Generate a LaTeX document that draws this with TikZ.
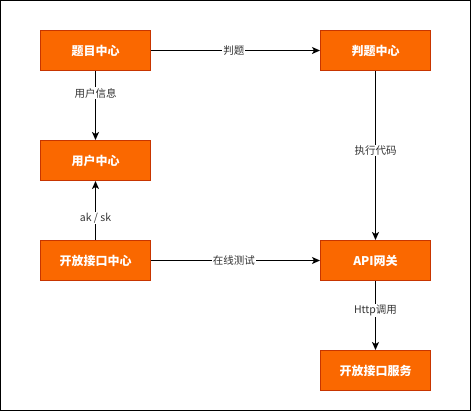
\documentclass[tikz,border=0pt]{standalone}
\usepackage{fontspec}
\setmainfont{Noto Sans CJK SC}
\usetikzlibrary{arrows.meta}
\definecolor{boxfill}{HTML}{FA6800}
\definecolor{boxline}{HTML}{C73500}
\definecolor{lblgray}{HTML}{333333}
\tikzstyle{box}=[rectangle, draw=boxline, fill=boxfill, line width=1pt,
                 minimum width=110pt, minimum height=40pt, inner sep=0pt,
                 text=white, font=\fontsize{12}{14}\selectfont\bfseries]
\tikzstyle{lbl}=[fill=white, inner sep=1pt, text=lblgray,
                 font=\fontsize{10.5}{12}\selectfont]
\tikzstyle{edge}=[draw=black, line width=1pt,
                  -{Stealth[length=8pt, width=7pt, inset=2pt]}]
\begin{document}
\begin{tikzpicture}[x=1pt, y=-1pt]

      \useasboundingbox (0,0) rectangle (471,411);
      \draw[line width=1pt] (0.5,0.5) rectangle (470.5,410.5);

      \node[box] (tmzx) at (95.5,50.5) {题目中心};
      \node[box] (ptzx) at (375.5,50.5) {判题中心};

      \node[box] (yhzx) at (95.5,160.5) {用户中心};

      \node[box] (kfzx) at (95.5,260.5) {开放接口中心};
      \node[box] (apiwg) at (375.5,260.5) {API网关};

      \node[box] (kffw) at (375.5,370.5) {开放接口服务};

      \draw[edge] (tmzx) -- (ptzx) node[lbl, pos=0.49] {判题};
      \draw[edge] (tmzx) -- (yhzx) node[lbl, pos=0.32] {用户信息};
      \draw[edge] (kfzx) -- (yhzx) node[lbl, pos=0.37] {ak / sk};
      \draw[edge] (kfzx) -- (apiwg) node[lbl, pos=0.49] {在线测试};
      \draw[edge] (ptzx) -- (apiwg) node[lbl, pos=0.47] {执行代码};
      \draw[edge] (apiwg) -- (kffw) node[lbl, pos=0.43] {Http调用};
    \end{tikzpicture}
\end{document}
